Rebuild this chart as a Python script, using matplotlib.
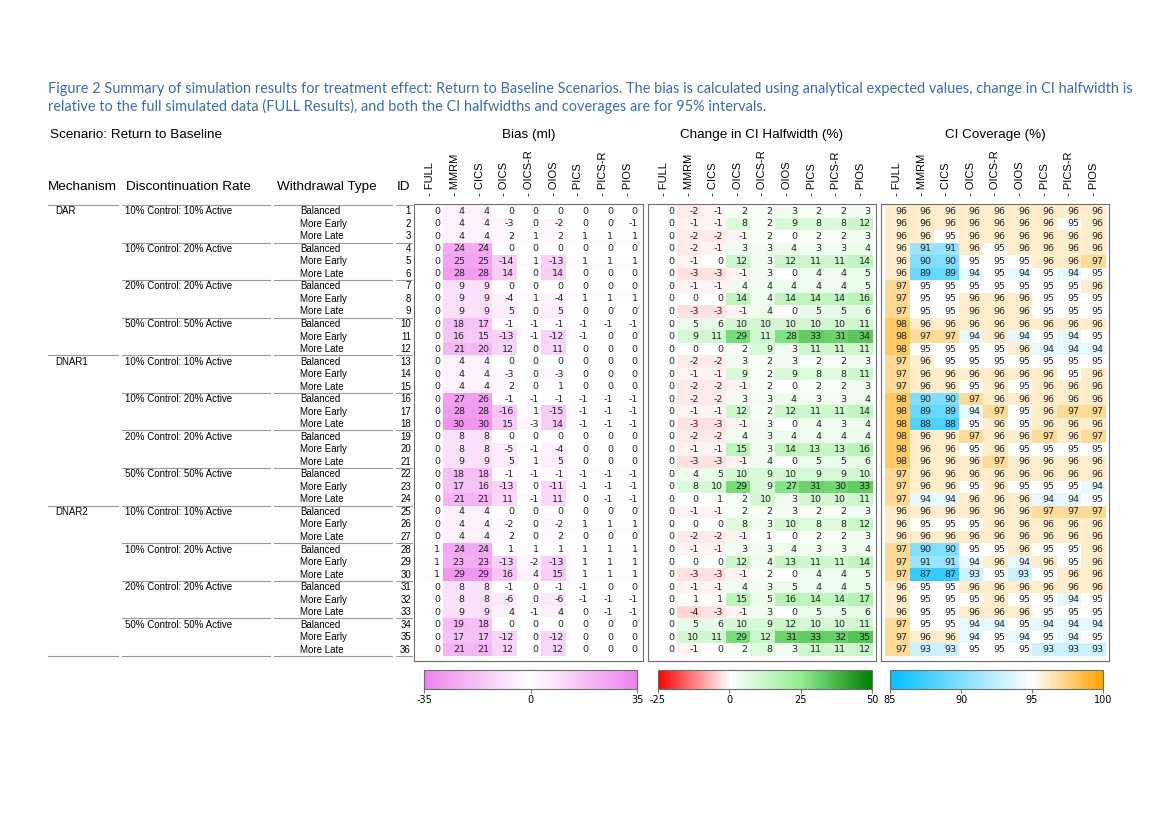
import numpy as np
import matplotlib.pyplot as plt
import matplotlib.cm as cm
from matplotlib.colors import LinearSegmentedColormap, Normalize

plt.rcParams["axes.unicode_minus"] = False

# figure size in pixels (landscape page)
W, H = 1169, 826

# ---- data ----
methods = ["FULL", "MMRM", "CICS", "OICS", "OICS-R", "OIOS", "PICS", "PICS-R", "PIOS"]
mechanisms = ["DAR", "DNAR1", "DNAR2"]
disc_rates = ["10% Control: 10% Active", "10% Control: 20% Active",
              "20% Control: 20% Active", "50% Control: 50% Active"]
withdrawal_types = ["Balanced", "More Early", "More Late"]
ids = list(range(1, 37))

bias = [
    [0, 4, 4, 0, 0, 0, 0, 0, 0],
    [0, 4, 4, -3, 0, -2, 0, 0, -1],
    [0, 4, 4, 2, 1, 2, 1, 1, 1],
    [0, 24, 24, 0, 0, 0, 0, 0, 0],
    [0, 25, 25, -14, 1, -13, 1, 1, 1],
    [0, 28, 28, 14, 0, 14, 0, 0, 0],
    [0, 9, 9, 0, 0, 0, 0, 0, 0],
    [0, 9, 9, -4, 1, -4, 1, 1, 1],
    [0, 9, 9, 5, 0, 5, 0, 0, 0],
    [0, 18, 17, -1, -1, -1, -1, -1, -1],
    [0, 16, 15, -13, -1, -12, -1, 0, 0],
    [0, 21, 20, 12, 0, 11, 0, 0, 0],
    [0, 4, 4, 0, 0, 0, 0, 0, 0],
    [0, 4, 4, -3, 0, -3, 0, 0, 0],
    [0, 4, 4, 2, 0, 1, 0, 0, 0],
    [0, 27, 26, -1, -1, -1, -1, -1, -1],
    [0, 28, 28, -16, 1, -15, -1, -1, -1],
    [0, 30, 30, 15, -3, 14, -1, -1, -1],
    [0, 8, 8, 0, 0, 0, 0, 0, 0],
    [0, 8, 8, -5, -1, -4, 0, 0, 0],
    [0, 9, 9, 5, 1, 5, 0, 0, 0],
    [0, 18, 18, -1, -1, -1, -1, -1, -1],
    [0, 17, 16, -13, 0, -11, -1, -1, -1],
    [0, 21, 21, 11, -1, 11, 0, -1, -1],
    [0, 4, 4, 0, 0, 0, 0, 0, 0],
    [0, 4, 4, -2, 0, -2, 1, 1, 1],
    [0, 4, 4, 2, 0, 2, 0, 0, 0],
    [1, 24, 24, 1, 1, 1, 1, 1, 1],
    [1, 23, 23, -13, -2, -13, 1, 1, 1],
    [1, 29, 29, 16, 4, 15, 1, 1, 1],
    [0, 8, 8, -1, 0, -1, -1, 0, 0],
    [0, 8, 8, -6, 0, -6, -1, -1, -1],
    [0, 9, 9, 4, -1, 4, 0, -1, -1],
    [0, 19, 18, 0, 0, 0, 0, 0, 0],
    [0, 17, 17, -12, 0, -12, 0, 0, 0],
    [0, 21, 21, 12, 0, 12, 0, 0, 0],
]

halfwidth = [
    [0, -2, -1, 2, 2, 3, 2, 2, 3],
    [0, -1, -1, 8, 2, 9, 8, 8, 12],
    [0, -2, -2, -1, 2, 0, 2, 2, 3],
    [0, -2, -1, 3, 3, 4, 3, 3, 4],
    [0, -1, 0, 12, 3, 12, 11, 11, 14],
    [0, -3, -3, -1, 3, 0, 4, 4, 5],
    [0, -1, -1, 4, 4, 4, 4, 4, 5],
    [0, 0, 0, 14, 4, 14, 14, 14, 16],
    [0, -3, -3, -1, 4, 0, 5, 5, 6],
    [0, 5, 6, 10, 10, 10, 10, 10, 11],
    [0, 9, 11, 29, 11, 28, 33, 31, 34],
    [0, 0, 0, 2, 9, 3, 11, 11, 11],
    [0, -2, -2, 3, 2, 3, 2, 2, 3],
    [0, -1, -1, 9, 2, 9, 8, 8, 11],
    [0, -2, -2, -1, 2, 0, 2, 2, 3],
    [0, -2, -2, 3, 3, 4, 3, 3, 4],
    [0, -1, -1, 12, 2, 12, 11, 11, 14],
    [0, -3, -3, -1, 3, 0, 4, 3, 4],
    [0, -2, -2, 4, 3, 4, 4, 4, 4],
    [0, -1, -1, 15, 3, 14, 13, 13, 16],
    [0, -3, -3, -1, 4, 0, 5, 5, 6],
    [0, 4, 5, 10, 9, 10, 9, 9, 10],
    [0, 8, 10, 29, 9, 27, 31, 30, 33],
    [0, 0, 1, 2, 10, 3, 10, 10, 11],
    [0, -1, -1, 2, 2, 3, 2, 2, 3],
    [0, 0, 0, 8, 3, 10, 8, 8, 12],
    [0, -2, -2, -1, 1, 0, 2, 2, 3],
    [0, -1, -1, 3, 3, 4, 3, 3, 4],
    [0, 0, 0, 12, 4, 13, 11, 11, 14],
    [0, -3, -3, -1, 2, 0, 4, 4, 5],
    [0, -1, -1, 4, 3, 5, 4, 4, 5],
    [0, 1, 1, 15, 5, 16, 14, 14, 17],
    [0, -4, -3, -1, 3, 0, 5, 5, 6],
    [0, 5, 6, 10, 9, 12, 10, 10, 11],
    [0, 10, 11, 29, 12, 31, 33, 32, 35],
    [0, -1, 0, 2, 8, 3, 11, 11, 12],
]

coverage = [
    [96, 96, 96, 96, 96, 96, 96, 96, 96],
    [96, 96, 96, 96, 96, 96, 96, 95, 96],
    [96, 96, 95, 96, 96, 96, 96, 96, 96],
    [96, 91, 91, 96, 95, 96, 96, 96, 96],
    [96, 90, 90, 95, 95, 95, 96, 96, 97],
    [96, 89, 89, 94, 95, 94, 95, 94, 95],
    [97, 95, 95, 95, 95, 95, 95, 95, 96],
    [97, 95, 95, 96, 96, 96, 95, 95, 95],
    [97, 95, 95, 96, 96, 96, 95, 95, 95],
    [98, 96, 96, 96, 96, 96, 96, 96, 96],
    [98, 97, 97, 94, 96, 94, 95, 94, 95],
    [98, 95, 95, 95, 95, 96, 94, 94, 94],
    [97, 96, 95, 95, 95, 95, 95, 95, 95],
    [97, 96, 96, 96, 96, 96, 96, 95, 96],
    [97, 96, 96, 95, 96, 95, 96, 96, 96],
    [98, 90, 90, 97, 96, 96, 96, 96, 96],
    [98, 89, 89, 94, 97, 95, 96, 97, 97],
    [98, 88, 88, 95, 96, 95, 96, 96, 96],
    [98, 96, 96, 97, 96, 96, 97, 96, 97],
    [98, 96, 96, 95, 96, 95, 95, 95, 95],
    [98, 96, 96, 96, 97, 96, 96, 96, 96],
    [97, 96, 96, 96, 96, 96, 96, 96, 96],
    [97, 96, 96, 95, 96, 95, 95, 95, 94],
    [97, 94, 94, 96, 96, 96, 94, 94, 95],
    [96, 96, 96, 96, 96, 96, 97, 97, 97],
    [96, 95, 95, 95, 96, 96, 96, 96, 96],
    [96, 96, 96, 96, 96, 96, 96, 96, 96],
    [97, 90, 90, 95, 95, 96, 95, 95, 96],
    [97, 91, 91, 94, 96, 94, 96, 95, 96],
    [97, 87, 87, 93, 95, 93, 95, 96, 96],
    [96, 95, 95, 96, 96, 96, 96, 96, 96],
    [96, 95, 95, 95, 96, 95, 95, 94, 95],
    [96, 95, 95, 96, 96, 96, 95, 95, 95],
    [97, 95, 95, 94, 94, 95, 94, 94, 94],
    [97, 96, 96, 94, 95, 94, 95, 94, 95],
    [97, 93, 93, 95, 95, 95, 93, 93, 93],
]

title_lines = [
    "Figure 2 Summary of simulation results for treatment effect: Return to Baseline Scenarios. "
    "The bias is calculated using analytical expected values, change in CI halfwidth is",
    "relative to the full simulated data (FULL Results), and both the CI halfwidths and coverages are for 95% intervals.",
]

# colour scales
bias_cmap = LinearSegmentedColormap.from_list("bias", ["#EE82EE", "#FFFFFF", "#EE82EE"])
ci_cmap = LinearSegmentedColormap.from_list(
    "ci", [(0, "#FF0000"), (1 / 3, "#FFFFFF"), (2 / 3, "#90EE90"), (1, "#008000")])
cov_cmap = LinearSegmentedColormap.from_list(
    "cov", [(0, "#00BFFF"), (2 / 3, "#FFFFFF"), (1, "#FFA500")])
bias_norm = Normalize(-35, 35)
ci_norm = Normalize(-25, 50)
cov_norm = Normalize(85, 100)

TXT = "Liberation Sans"
NUM = "DejaVu Sans"
LINE = "#9a9a9a"
FRAME = "#6e6e6e"

fig = plt.figure(figsize=(W / 100, H / 100), dpi=100)


def px_axes(x0, y0, x1, y1):
    return fig.add_axes([x0 / W, 1 - y1 / H, (x1 - x0) / W, (y1 - y0) / H])


def fx(x):
    return x / W


def fy(y):
    return 1 - y / H


# table vertical extent (pixels) and row limits
TOP, BOT = 204, 661
ROW_LIM = (36.4, -0.08)

# title
for i, line in enumerate(title_lines):
    fig.text(fx(48), fy(89 + i * 17), line, fontsize=10.45, family="Lato",
             color="#3b6ea3", ha="left", va="center")

fig.text(fx(50), fy(135), "Scenario: Return to Baseline", fontsize=9.7, family=TXT, va="center")

# left header
for label, x, ha in [("Mechanism", 48, "left"), ("Discontinuation Rate", 126, "left"),
                     ("Withdrawal Type", 277, "left"), ("ID", 404, "center")]:
    fig.text(fx(x), fy(187), label, fontsize=9.7, family=TXT, ha=ha, va="center")

# left label block
lab = px_axes(40, TOP, 414, BOT)
lab.set_xlim(40, 414)
lab.set_ylim(*ROW_LIM)
lab.axis("off")

segments_all = [(48, 118), (122, 270), (274, 392), (396, 412)]
segments_grp = segments_all[1:]
for r in range(36):
    m, rem = divmod(r, 12)
    g, w = divmod(rem, 3)
    if rem == 0:
        lab.text(55, r + 0.5, mechanisms[m], fontsize=7, family=TXT, va="center")
    if w == 0:
        lab.text(125, r + 0.5, disc_rates[g], fontsize=7, family=TXT, va="center")
        segs = segments_all if rem == 0 else segments_grp
        for a, b in segs:
            lab.plot([a, b], [r, r], color=LINE, lw=0.8, clip_on=False)
    lab.text(300, r + 0.5, withdrawal_types[w], fontsize=7, family=TXT, va="center")
    lab.text(411, r + 0.5, str(ids[r]), fontsize=7, family=TXT, va="center", ha="right")
for a, b in segments_all:
    lab.plot([a, b], [36, 36], color=LINE, lw=0.8, clip_on=False)


def heat_panel(x0, x1, values, cmap, norm, title):
    ax = px_axes(x0, TOP, x1, BOT)
    arr = np.array(values)
    ax.pcolormesh(np.arange(10), np.arange(37), arr, cmap=cmap, norm=norm)
    ax.set_xlim(-0.16, 9.12)
    ax.set_ylim(*ROW_LIM)
    for r in range(arr.shape[0]):
        for c in range(arr.shape[1]):
            ax.text(c + 0.9, r + 0.5, str(arr[r, c]), ha="right", va="center",
                    fontsize=6.8, family=NUM, color="#222222")
    ax.xaxis.tick_top()
    ax.set_xticks(np.arange(9) + 0.5)
    ax.set_xticklabels(["- " + m for m in methods], rotation=90, fontsize=8, family=TXT)
    ax.tick_params(axis="x", length=0, pad=6)
    ax.set_yticks([])
    for s in ax.spines.values():
        s.set_color(FRAME)
        s.set_linewidth(0.8)
    fig.text(fx((x0 + x1) / 2), fy(135), title, fontsize=9.7, family=TXT, ha="center", va="center")
    return ax


heat_panel(414, 643, bias, bias_cmap, bias_norm, "Bias (ml)")
heat_panel(648, 876, halfwidth, ci_cmap, ci_norm, "Change in CI Halfwidth (%)")
heat_panel(881, 1109, coverage, cov_cmap, cov_norm, "CI Coverage (%)")

# colour bars
for (x0, x1), cmap, norm, ticks in [((424, 637), bias_cmap, bias_norm, [-35, 0, 35]),
                                    ((658, 872), ci_cmap, ci_norm, [-25, 0, 25, 50]),
                                    ((890, 1103), cov_cmap, cov_norm, [85, 90, 95, 100])]:
    cax = px_axes(x0, 670, x1, 689)
    cb = fig.colorbar(cm.ScalarMappable(norm=norm, cmap=cmap), cax=cax,
                      orientation="horizontal", ticks=ticks)
    cb.outline.set_edgecolor(FRAME)
    cb.outline.set_linewidth(0.8)
    cax.tick_params(labelsize=7, length=3, color=FRAME, pad=1)
    for t in cax.get_xticklabels():
        t.set_family(NUM)

fig.savefig("out.png", dpi=100)
